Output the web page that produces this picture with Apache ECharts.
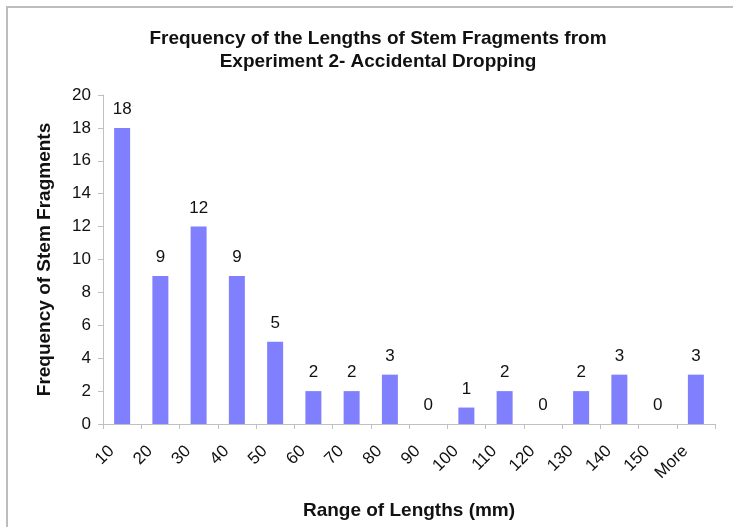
<!DOCTYPE html>
<html>
<head>
<meta charset="utf-8">
<script src="https://cdn.jsdelivr.net/npm/echarts@6/dist/echarts.min.js"></script>
<style>html,body{margin:0;padding:0;background:#fff}#c{width:733px;height:527px}</style>
</head>
<body>
<div id="c"></div>
<script>
const categories = ['10','20','30','40','50','60','70','80','90','100','110','120','130','140','150','More'];
const frequencies = [18, 9, 12, 9, 5, 2, 2, 3, 0, 1, 2, 0, 2, 3, 0, 3];
const yTicks = {min: 0, max: 20, interval: 2};
const titleText = 'Frequency of the Lengths of Stem Fragments from\nExperiment 2- Accidental Dropping';
const xName = 'Range of Lengths (mm)';
const yName = 'Frequency of Stem Fragments';

const font = 'Liberation Sans, Arial, sans-serif';
const chart = echarts.init(document.getElementById('c'), null, {renderer: 'canvas'});
chart.setOption({
  backgroundColor: '#fff',
  animation: false,
  graphic: [{
    type: 'rect', shape: {x: 7, y: 7, width: 760, height: 560},
    style: {fill: 'none', stroke: '#bdbdbd', lineWidth: 2}, silent: true
  }],
  title: {
    text: titleText, left: 373, textAlign: 'center', top: 22,
    textStyle: {fontFamily: font, fontSize: 19, fontWeight: 'bold', color: '#111', lineHeight: 23}
  },
  grid: {left: 103, right: 18, top: 95, bottom: 103, containLabel: false, outerBoundsMode: 'none'},
  xAxis: {
    type: 'category', data: categories,
    name: xName, nameLocation: 'middle', nameGap: 77,
    nameTextStyle: {fontFamily: font, fontSize: 19, fontWeight: 'bold', color: '#111'},
    axisLine: {lineStyle: {color: '#c0c0c0', width: 1}},
    axisTick: {show: true, length: 5, lineStyle: {color: '#c0c0c0'}, alignWithLabel: false},
    axisLabel: {rotate: 45, fontFamily: font, fontSize: 17, color: '#111', margin: 14, padding: [0, 15, 0, 0], interval: 0}
  },
  yAxis: {
    type: 'value', min: yTicks.min, max: yTicks.max, interval: yTicks.interval,
    name: yName, nameLocation: 'middle', nameGap: 49, nameRotate: 90,
    nameTextStyle: {fontFamily: font, fontSize: 19, fontWeight: 'bold', color: '#111'},
    axisLine: {show: true, lineStyle: {color: '#c0c0c0', width: 1}},
    axisTick: {show: true, length: 5, lineStyle: {color: '#c0c0c0'}},
    splitLine: {show: false},
    axisLabel: {fontFamily: font, fontSize: 17, color: '#111', margin: 12}
  },
  series: [{
    type: 'bar', data: frequencies, barWidth: 16,
    itemStyle: {color: '#8080ff', borderWidth: 0},
    label: {show: true, position: 'top', distance: 10, fontFamily: font, fontSize: 17, color: '#111'}
  }]
});
</script>
</body>
</html>
